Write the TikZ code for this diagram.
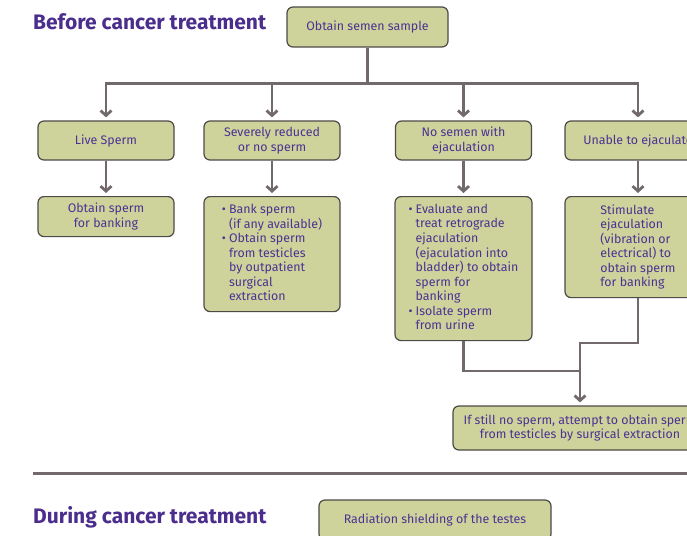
\documentclass[tikz,border=0pt]{standalone}
\usepackage{fontspec}
\setmainfont{Fira Sans}
\usepackage{xcolor}
\usepackage{tikz}
\usetikzlibrary{arrows.meta}
\definecolor{CBoxFill}{HTML}{CED39B}
\definecolor{CBoxLine}{HTML}{4D4A48}
\definecolor{CLink}{HTML}{726A6A}
\definecolor{CText}{HTML}{4B3293}
\definecolor{CHead}{HTML}{4A2D8C}

\begin{document}
\begin{tikzpicture}[inner sep=0pt,
  box/.style={draw=CBoxLine, line width=1.2pt, fill=CBoxFill, rounded corners=6pt, text=CText, align=center, font=\fontsize{12.4}{14.5}\selectfont},
  rowbox/.style={box, minimum width=136pt, minimum height=39pt},
  head/.style={text=CHead, anchor=base west, font=\bfseries\fontsize{21}{24}\selectfont},
  link/.style={draw=CLink, line width=2.8pt},
  arr/.style={-{Straight Barb[length=5pt,width=11pt]}, shorten >=3pt}]
\useasboundingbox (0,0) rectangle (687pt,-535pt);
\clip (0,0) rectangle (687pt,-535pt);
% headings
\node (t0) [head, at={(33pt,-30pt)}] {Before cancer treatment};
\node (t1) [head, at={(33pt,-523pt)}] {During cancer treatment};
% before treatment
\node (n0) [box, at={(367.5pt,-27pt)}, minimum width=161pt, minimum height=40pt] {Obtain semen sample};
\node (n1) [rowbox, at={(106pt,-140.5pt)}] {Live Sperm};
\node (n2) [rowbox, at={(272pt,-140.5pt)}] {Severely reduced\\or no sperm};
\node (n3) [rowbox, at={(463.5pt,-140.5pt)}] {No semen with\\ejaculation};
\node (n4) [rowbox, at={(638pt,-140.5pt)}, minimum width=146pt] {Unable to ejaculate};
\node (n5) [box, anchor=north, at={(106pt,-196pt)}, minimum width=136pt, minimum height=40pt] {Obtain sperm\\for banking};
\node (n6) [box, anchor=north, at={(272pt,-196pt)}, minimum width=136pt, minimum height=115pt] {\begin{tabular}{@{}l@{\hspace{3pt}}l@{}}•&Bank sperm\\&(if any available)\\•&Obtain sperm\\&from testicles\\&by outpatient\\&surgical\\&extraction\end{tabular}};
\node (n7) [box, anchor=north, at={(463.5pt,-196pt)}, minimum width=137pt, minimum height=144pt] {\begin{tabular}{@{}l@{\hspace{3pt}}l@{}}•&Evaluate and\\&treat retrograde\\&ejaculation\\&(ejaculation into\\&bladder) to obtain\\&sperm for\\&banking\\•&Isolate sperm\\&from urine\end{tabular}};
\node (n8) [box, anchor=north, at={(638pt,-196pt)}, minimum width=146pt, minimum height=101pt, align=left] {Stimulate\\ejaculation\\(vibration or\\electrical) to\\obtain sperm\\for banking};
\node (n9) [box, at={(580pt,-428pt)}, minimum width=254pt, minimum height=44pt] {If still no sperm, attempt to obtain sperm\\from testicles by surgical extraction};
% during treatment
\node (n10) [box, at={(435pt,-520pt)}, minimum width=232pt, minimum height=40pt] {Radiation shielding of the testes};
\coordinate (j1) at (580pt,-371pt);
\coordinate (j2) at (580pt,-343pt);
\path [link,arr] (n0.south) -- ++(0,-36pt) -| (n1.north);
\path [link,arr] (n0.south) -- ++(0,-36pt) -| (n2.north);
\path [link,arr] (n0.south) -- ++(0,-36pt) -| (n3.north);
\path [link,arr] (n0.south) -- ++(0,-36pt) -| (n4.north);
\path [link,arr] (n1) -- (n5);
\path [link,arr] (n2) -- (n6);
\path [link,arr] (n3) -- (n7);
\path [link,arr] (n4) -- (n8);
\path [link] (n7.south) |- (j1);
\path [link,arr] (n8.south) |- (j2) -- (n9.north);
\draw [CLink, line width=3pt] (33pt,-473pt) -- (700pt,-473pt);
\end{tikzpicture}
\end{document}
